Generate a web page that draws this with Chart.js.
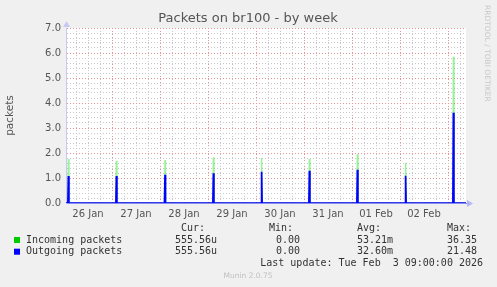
<!DOCTYPE html>
<html>
<head>
<meta charset="utf-8">
<script src="https://cdn.jsdelivr.net/npm/chart.js"></script>
<style>
  body { margin: 0; background: #f0f0f0; }
  canvas { display: block; }
</style>
</head>
<body>
<canvas id="packets" width="497" height="287"></canvas>
<script>
    // x values are hours counted from 26 Jan 00:00; the week view runs 26 Jan 01:00 .. 03 Feb 09:00
    const START_HOUR = 1;
    const END_HOUR = 201;
    const dayLabels = ['26 Jan', '27 Jan', '28 Jan', '29 Jan', '30 Jan', '31 Jan', '01 Feb', '02 Feb'];
    const spikeHours = [2.2, 26.2, 50.5, 74.7, 98.8, 122.7, 146.7, 170.8, 194.7];
    const incoming = [1.76, 1.68, 1.72, 1.83, 1.81, 1.76, 1.96, 1.61, 5.85];
    const outgoing = [1.08, 1.08, 1.13, 1.19, 1.25, 1.29, 1.33, 1.09, 3.61];
    const legendHeader = ['Cur:', 'Min:', 'Avg:', 'Max:'];
    const legendNames = ['Incoming packets', 'Outgoing packets'];
    const legendValues = [
        ['555.56u', '0.00', '53.21m', '36.35'],
        ['555.56u', '0.00', '32.60m', '21.48']
    ];
    const chartTitle = 'Packets on br100 - by week';
    const lastUpdate = 'Last update: Tue Feb  3 09:00:00 2026';

    const GREEN = '#00cc00';
    const BLUE = '#0000ff';
    const MAJOR = '#e49494';
    const MINOR = '#c8c8c8';

    // flat line at zero with one short spike per sample
    function spikes(values) {
        const pts = [{x: START_HOUR, y: 0}];
        spikeHours.forEach((h, i) => {
            pts.push({x: h - 0.25, y: 0}, {x: h, y: values[i]}, {x: h + 0.25, y: 0});
        });
        pts.push({x: END_HOUR, y: 0});
        return pts;
    }

    const isWhole = v => Math.abs(v - Math.round(v)) < 1e-6;

    const muninDecor = {
        id: 'muninDecor',
        beforeDraw(chart) {
            const {ctx, chartArea: a} = chart;
            ctx.save();
            ctx.fillStyle = '#f0f0f0';
            ctx.fillRect(0, 0, chart.width, chart.height);
            ctx.fillStyle = '#ffffff';
            ctx.fillRect(a.left, a.top, a.right - a.left, a.bottom - a.top);
            ctx.restore();
        },
        afterDraw(chart) {
            const {ctx, chartArea: a} = chart;
            ctx.save();
            // title, centred on the whole image like rrdtool does
            ctx.font = '13px "DejaVu Sans"';
            ctx.fillStyle = '#555';
            ctx.textAlign = 'center';
            ctx.textBaseline = 'middle';
            ctx.fillText(chartTitle, 248, 19);

            // axis arrows
            ctx.fillStyle = '#c8c8f4';
            ctx.beginPath();
            ctx.moveTo(a.left + 0.5, a.top - 7);
            ctx.lineTo(a.left - 3, a.top - 1);
            ctx.lineTo(a.left + 4, a.top - 1);
            ctx.fill();
            ctx.fillStyle = '#b4b4f8';
            ctx.beginPath();
            ctx.moveTo(a.right + 7, a.bottom + 0.5);
            ctx.lineTo(a.right + 1, a.bottom - 3);
            ctx.lineTo(a.right + 1, a.bottom + 4);
            ctx.fill();

            // legend table
            ctx.textAlign = 'left';
            ctx.font = '10px "DejaVu Sans Mono"';
            ctx.fillStyle = '#333';
            const cols = [181, 269, 357, 447];
            const valCols = [175, 276, 357, 447];
            legendHeader.forEach((t, i) => ctx.fillText(t, cols[i], 228.5));
            [GREEN, BLUE].forEach((c, r) => {
                const y = 240 + r * 11.7;
                ctx.fillStyle = c;
                ctx.fillRect(14, y - 3, 6, 6);
                ctx.fillStyle = '#333';
                ctx.fillText(legendNames[r], 26, y);
                legendValues[r].forEach((t, i) => ctx.fillText(t, valCols[i], y));
            });
            ctx.textAlign = 'right';
            ctx.fillText(lastUpdate, 483, 263.5);

            ctx.font = '7.5px "DejaVu Sans"';
            ctx.textAlign = 'center';
            ctx.fillStyle = '#c0c0c0';
            ctx.fillText('Munin 2.0.75', 248, 276);

            ctx.translate(487, 5);
            ctx.rotate(Math.PI / 2);
            ctx.textAlign = 'left';
            ctx.font = '7.5px "DejaVu Sans"';
            ctx.fillStyle = '#c8c8c8';
            ctx.fillText('RRDTOOL / TOBI OETIKER', 0, 0);
            ctx.restore();
        }
    };

    new Chart(document.getElementById('packets'), {
        type: 'line',
        data: {
            datasets: [{
                label: 'Outgoing packets',
                data: spikes(outgoing),
                borderColor: BLUE,
                borderWidth: 1.7,
                pointRadius: 0,
                tension: 0,
                order: 0
            },
            {
                label: 'Incoming packets',
                data: spikes(incoming),
                borderColor: 'rgba(0, 220, 0, 0.4)',
                borderWidth: 1.5,
                pointRadius: 0,
                tension: 0,
                order: 1
            }]
        },
        options: {
            responsive: false,
            animation: false,
            events: [],
            layout: { padding: { left: 0, right: 31, top: 28, bottom: 0 } },
            plugins: {
                legend: { display: false },
                tooltip: { enabled: false },
                title: { display: false }
            },
            scales: {
                x: {
                    type: 'linear',
                    min: START_HOUR,
                    max: END_HOUR,
                    afterFit: s => { s.height = 84; },
                    afterBuildTicks: s => {
                        s.ticks = [];
                        for (let h = 6; h < END_HOUR; h += 6) s.ticks.push({value: h});
                    },
                    ticks: {
                        autoSkip: false,
                        maxRotation: 0,
                        padding: 5,
                        color: '#555',
                        font: { family: 'DejaVu Sans', size: 10 },
                        callback: v => (v % 24 === 12 ? dayLabels[(v - 12) / 24] : '')
                    },
                    grid: {
                        drawTicks: false,
                        color: c => (c.tick && c.tick.value % 24 === 0 ? MAJOR : MINOR)
                    },
                    border: { color: '#8c8cf0', dash: [1, 2] }
                },
                y: {
                    min: 0,
                    max: 7,
                    afterFit: s => { s.width = 66; },
                    ticks: {
                        stepSize: 0.2,
                        autoSkip: false,
                        padding: 5,
                        color: '#555',
                        font: { family: 'DejaVu Sans', size: 10 },
                        callback: v => (isWhole(v) ? v.toFixed(1) : '')
                    },
                    grid: {
                        drawTicks: false,
                        color: c => (c.tick && isWhole(c.tick.value) ? MAJOR : MINOR)
                    },
                    border: { color: '#c8c8f4', dash: [1, 2] },
                    title: {
                        display: true,
                        text: 'packets',
                        color: '#555',
                        font: { family: 'DejaVu Sans', size: 10.5 },
                        padding: { top: 4, bottom: 4 }
                    }
                }
            }
        },
        plugins: [muninDecor]
    });
</script>
</body>
</html>
